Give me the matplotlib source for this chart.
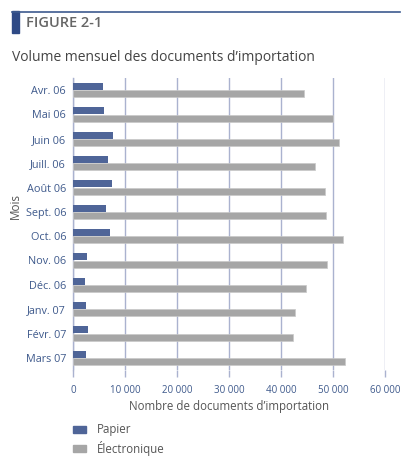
import matplotlib
matplotlib.use("Agg")
import matplotlib.pyplot as plt
from matplotlib.patches import Rectangle
import numpy as np

months = ["Avr. 06", "Mai 06", "Juin 06", "Juill. 06", "Août 06", "Sept. 06",
          "Oct. 06", "Nov. 06", "Déc. 06", "Janv. 07", "Févr. 07", "Mars 07"]
papier = [5700, 5900, 7700, 6750, 7450, 6300, 7200, 2750, 2300, 2500, 2950, 2450]
electronique = [44500, 50000, 51200, 46600, 48400, 48600, 52000, 48900, 44900, 42700, 42400, 52400]
xticks = [0, 10000, 20000, 30000, 40000, 50000, 60000]
xticklabels = ["0", "10 000", "20 000", "30 000", "40 000", "50 000", "60 000"]

BLUE = "#4f6598"
GRAY = "#a6a6a6"
GRID = "#aab2cf"
TICK = "#3f5a8c"
TEXT = "#555555"

W, H = 412, 467
fig = plt.figure(figsize=(W / 100, H / 100), dpi=100)
plt.rcParams['font.family'] = ['Open Sans', 'DejaVu Sans']

ax = fig.add_axes([73 / W, 1 - 370 / H, (385 - 73) / W, (370 - 78) / H])
y = np.arange(len(months))
bh = 0.29
ax.barh(y - bh / 2 - 0.01, papier, height=bh, color=BLUE, zorder=3)
ax.barh(y + bh / 2 + 0.01, electronique, height=bh, color=GRAY, zorder=3,
        edgecolor="#c8c8c8", linewidth=0.5)
ax.set_ylim(len(months) - 0.5, -0.5)
ax.set_xlim(0, 60000)
ax.set_yticks(y)
ax.set_yticklabels(months, fontsize=7.8, color=TICK)
ax.set_xticks(xticks)
ax.set_xticklabels(xticklabels, fontsize=7, color=TICK)
ax.tick_params(axis="y", length=0, pad=5)
ax.tick_params(axis="x", length=5, color=GRID, width=1, pad=6)
ax.grid(axis="x", color=GRID, linewidth=1, zorder=0)
for s in ["top", "right", "bottom"]:
    ax.spines[s].set_visible(False)
ax.spines["left"].set_color(GRID)
ax.spines["left"].set_linewidth(1)
ax.set_xlabel("Nombre de documents d’importation", fontsize=8.3, color=TEXT, labelpad=3)
ax.set_ylabel("Mois", fontsize=8.5, color=TEXT)
ax.yaxis.set_label_coords(-0.163, 0.562)

# header
fig.add_artist(plt.Line2D([12 / W, 400 / W], [1 - 11.5 / H, 1 - 11.5 / H],
                          color="#3d5a8f", linewidth=1.2))
fig.add_artist(Rectangle((12 / W, 1 - 33 / H), 7 / W, 22 / H, color="#2f4a86",
                         transform=fig.transFigure))
fig.text(26 / W, 1 - 27 / H, "FIGURE 2-1", fontsize=10.5, fontweight="semibold",
         color="#666666", va="baseline")
fig.text(12 / W, 1 - 61 / H, "Volume mensuel des documents d’importation",
         fontsize=10, color="#444444", va="baseline")

# legend
fig.add_artist(Rectangle((73 / W, 1 - 433 / H), 13 / W, 7 / H, color=BLUE,
                         transform=fig.transFigure))
fig.add_artist(Rectangle((73 / W, 1 - 452 / H), 13 / W, 7 / H, color=GRAY,
                         transform=fig.transFigure))
fig.text(97 / W, 1 - 429.5 / H, "Papier", fontsize=8.3, color=TEXT, va="center")
fig.text(97 / W, 1 - 448.5 / H, "Électronique", fontsize=8.3, color=TEXT, va="center")

fig.savefig("out.png", dpi=100)
